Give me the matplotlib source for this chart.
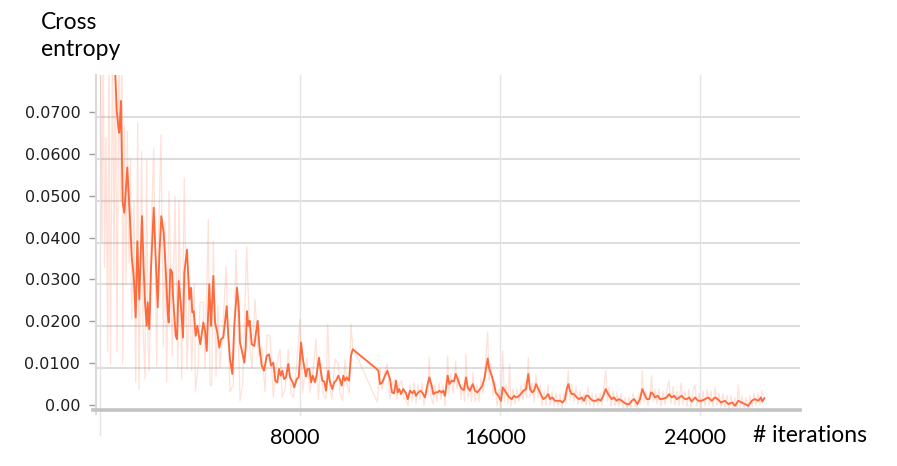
import matplotlib
matplotlib.use("Agg")
import matplotlib.pyplot as plt
from matplotlib.transforms import ScaledTranslation

# ---------------- data ----------------
smooth_steps = [
    400, 560, 668, 740, 772, 840, 908, 972, 1092, 1200,
    1268, 1348, 1428, 1492, 1572, 1680, 1748, 1800, 1868, 1908,
    1972, 2040, 2148, 2228, 2308, 2372, 2452, 2548, 2628, 2708,
    2748, 2812, 2880, 2920, 3028, 3080, 3148, 3228, 3320, 3372,
    3480, 3572, 3640, 3692, 3748, 3828, 3892, 4012, 4132, 4200,
    4268, 4372, 4440, 4532, 4600, 4692, 4772, 4840, 4932, 5012,
    5068, 5132, 5200, 5292, 5372, 5480, 5548, 5600, 5692, 5772,
    5828, 5880, 5932, 5988, 6068, 6172, 6240, 6308, 6372, 6468,
    6560, 6668, 6760, 6840, 6932, 7012, 7092, 7160, 7228, 7292,
    7360, 7440, 7532, 7600, 7708, 7772, 7868, 7948, 8040, 8132,
    8240, 8292, 8372, 8440, 8508, 8600, 8668, 8760, 8828, 8892,
    8972, 9040, 9132, 9200, 9292, 9372, 9440, 9532, 9600, 9668,
    9732, 9800, 9868, 9960, 10040, 10108, 11068, 11132, 11200, 11292,
    11400, 11492, 11600, 11680, 11760, 11840, 11908, 11972, 12040, 12132,
    12240, 12308, 12400, 12492, 12572, 12640, 12732, 12828, 12908, 13000,
    13092, 13172, 13268, 13332, 13428, 13508, 13572, 13668, 13732, 13800,
    13908, 13972, 14068, 14160, 14228, 14308, 14372, 14468, 14560, 14640,
    14708, 14800, 14908, 15000, 15092, 15200, 15292, 15372, 15440, 15508,
    15572, 15668, 15760, 15828, 15932, 16040, 16108, 16200, 16280, 16372,
    16468, 16560, 16640, 16732, 16828, 16932, 17040, 17132, 17200, 17292,
    17360, 17440, 17532, 17628, 17732, 17828, 17932, 18000, 18092, 18200,
    18292, 18400, 18508, 18600, 18668, 18732, 18800, 18868, 18960, 19068,
    19160, 19268, 19360, 19440, 19532, 19628, 19732, 19840, 19932, 20028,
    20132, 20228, 20292, 20372, 20468, 20560, 20668, 20760, 20868, 20960,
    21068, 21172, 21268, 21372, 21492, 21600, 21692, 21772, 21868, 21972,
    22040, 22132, 22200, 22308, 22400, 22532, 22668, 22760, 22868, 22972,
    23068, 23172, 23268, 23372, 23468, 23572, 23668, 23800, 23932, 24068,
    24200, 24332, 24468, 24600, 24708, 24840, 25000, 25132, 25292, 25400,
    25532, 25668, 25800, 25932, 26068, 26200, 26332, 26440, 26492, 26572,
]
smooth_values = [
    .100, .088, .0717, .0672, .0662, .0738, .0495, .0471, .0579, .0455,
    .0367, .0320, .0221, .0403, .0264, .0463, .0336, .0257, .0201, .0257,
    .0193, .0336, .0483, .0367, .0245, .0367, .0463, .0423, .0336, .0233,
    .0209, .0336, .0330, .0272, .0177, .0169, .0308, .0256, .0173, .0328,
    .0383, .0264, .0292, .0233, .0236, .0177, .0201, .0157, .0209, .0190,
    .0141, .0300, .0201, .0320, .0209, .0185, .0149, .0169, .0173, .0217,
    .0248, .0177, .0121, .0086, .0201, .0292, .0248, .0161, .0137, .0113,
    .0150, .0236, .0201, .0213, .0157, .0153, .0185, .0213, .0153, .0106,
    .0094, .0129, .0133, .0106, .0113, .0070, .0066, .0098, .0082, .0094,
    .0074, .0078, .0110, .0078, .0066, .0054, .0074, .0078, .0161, .0115,
    .0080, .0098, .0098, .0066, .0082, .0066, .0085, .0125, .0094, .0070,
    .0068, .0046, .0094, .0066, .0050, .0066, .0070, .0082, .0072, .0058,
    .0082, .0070, .0078, .0070, .0129, .0145, .0098, .0094, .0062, .0066,
    .0082, .0094, .0074, .0042, .0040, .0070, .0042, .0050, .0038, .0050,
    .0040, .0026, .0046, .0040, .0046, .0034, .0042, .0046, .0040, .0030,
    .0058, .0078, .0058, .0038, .0042, .0042, .0046, .0042, .0046, .0034,
    .0082, .0062, .0070, .0068, .0086, .0074, .0062, .0050, .0048, .0078,
    .0054, .0046, .0062, .0046, .0042, .0050, .0058, .0074, .0098, .0123,
    .0098, .0082, .0062, .0042, .0034, .0022, .0054, .0046, .0038, .0030,
    .0026, .0034, .0030, .0032, .0038, .0046, .0050, .0086, .0050, .0042,
    .0046, .0062, .0050, .0038, .0026, .0030, .0038, .0026, .0030, .0022,
    .0022, .0022, .0018, .0026, .0050, .0062, .0046, .0038, .0038, .0030,
    .0026, .0030, .0022, .0034, .0034, .0026, .0022, .0022, .0026, .0022,
    .0034, .0050, .0042, .0034, .0026, .0030, .0022, .0026, .0022, .0018,
    .0014, .0014, .0022, .0026, .0014, .0026, .0050, .0038, .0026, .0026,
    .0042, .0038, .0030, .0034, .0026, .0027, .0030, .0038, .0030, .0034,
    .0026, .0030, .0034, .0027, .0026, .0030, .0020, .0030, .0022, .0022,
    .0026, .0030, .0022, .0030, .0026, .0018, .0022, .0014, .0018, .0010,
    .0022, .0018, .0014, .0010, .0022, .0026, .0022, .0030, .0020, .0028,
]

raw_steps = [
    20, 80, 132, 180, 240, 308, 360, 420, 500, 560,
    620, 680, 760, 820, 880, 908, 980, 1040, 1092, 1160,
    1220, 1268, 1360, 1428, 1508, 1560, 1668, 1720, 1800, 1868,
    1920, 1972, 2040, 2148, 2268, 2340, 2440, 2532, 2600, 2668,
    2760, 2892, 3000, 3108, 3160, 3268, 3372, 3480, 3588, 3668,
    3772, 3820, 3932, 4000, 4132, 4200, 4332, 4400, 4468, 4532,
    4640, 4720, 4800, 4920, 5040, 5200, 5332, 5440, 5600, 5708,
    5868, 6000, 6080, 6200, 6332, 6468, 6600, 6680, 6800, 6932,
    7040, 7200, 7280, 7400, 7532, 7640, 7732, 7840, 8000, 8108,
    8268, 8400, 8520, 8640, 8732, 8840, 8920, 9040, 9108, 9200,
    9280, 9400, 9532, 9600, 9708, 9800, 9880, 9972, 10040, 10108,
    11092, 11200, 11280, 11400, 11492, 11600, 11680, 11800, 11880, 11960,
    12068, 12160, 12240, 12320, 12400, 12480, 12560, 12640, 12720, 12800,
    12880, 12960, 13040, 13120, 13172, 13240, 13320, 13400, 13480, 13560,
    13640, 13720, 13800, 13908, 13960, 14040, 14120, 14228, 14280, 14360,
    14440, 14520, 14580, 14640, 14720, 14800, 14860, 14920, 15000, 15080,
    15160, 15240, 15320, 15400, 15508, 15560, 15640, 15720, 15800, 15880,
    15960, 16040, 16108, 16180, 16240, 16320, 16380, 16440, 16520, 16600,
    16680, 16760, 16840, 16920, 17000, 17060, 17132, 17200, 17280, 17360,
    17440, 17520, 17600, 17680, 17760, 17840, 17920, 18000, 18080, 18160,
    18240, 18320, 18400, 18480, 18560, 18640, 18732, 18800, 18880, 18960,
    19040, 19120, 19200, 19280, 19360, 19440, 19520, 19600, 19680, 19760,
    19840, 19920, 20000, 20080, 20160, 20228, 20300, 20360, 20440, 20520,
    20600, 20680, 20760, 20840, 20920, 21000, 21080, 21160, 21240, 21320,
    21400, 21480, 21560, 21620, 21692, 21760, 21840, 21920, 22000, 22068,
    22120, 22200, 22280, 22360, 22440, 22520, 22600, 22680, 22760, 22840,
    22920, 23000, 23080, 23160, 23240, 23320, 23400, 23480, 23560, 23640,
    23720, 23800, 23880, 23960, 24040, 24120, 24200, 24280, 24360, 24440,
    24520, 24600, 24680, 24760, 24840, 24920, 25000, 25080, 25160, 25240,
    25320, 25400, 25480, 25532, 25600, 25680, 25760, 25840, 25920, 26000,
    26080, 26160, 26240, 26320, 26400, 26480, 26572,
]
raw_values = [
    .085, .040, .090, .034, .065, .014, .090, .011, .090, .030,
    .090, .0138, .090, .050, .090, .011, .068, .030, .0667, .035,
    .060, .0217, .050, .0067, .0686, .005, .0617, .020, .0074, .0598,
    .015, .0094, .040, .0625, .0106, .040, .0657, .015, .045, .0067,
    .0522, .013, .051, .010, .050, .0074, .0554, .0098, .032, .0094,
    .030, .0045, .0106, .0257, .0257, .0098, .0455, .0058, .0060, .0403,
    .0080, .0250, .0100, .0200, .0343, .0043, .0060, .0383, .0022, .0060,
    .0391, .0150, .0100, .0264, .0130, .0150, .0043, .0180, .0177, .0031,
    .0100, .0145, .0031, .0050, .0145, .0040, .0030, .0090, .0217, .0042,
    .0125, .0042, .0090, .0169, .0026, .0110, .0040, .0026, .0205, .0050,
    .0026, .0122, .0110, .0040, .0022, .0121, .0060, .0040, .0205, .0150,
    .0019, .0100, .0050, .0094, .0110, .0026, .0060, .0074, .0026, .0060,
    .0070, .0026, .0026, .0010, .0060, .0020, .0065, .0015, .0060, .0025,
    .0065, .0010, .0050, .0040, .0126, .0030, .0015, .0060, .0020, .0065,
    .0025, .0060, .0010, .0129, .0040, .0085, .0040, .0117, .0050, .0080,
    .0025, .0060, .0020, .0133, .0030, .0060, .0020, .0090, .0020, .0060,
    .0020, .0075, .0040, .0100, .0186, .0070, .0110, .0035, .0070, .0010,
    .0050, .0005, .0141, .0020, .0060, .0015, .0110, .0008, .0050, .0015,
    .0050, .0020, .0060, .0025, .0065, .0030, .0125, .0030, .0065, .0020,
    .0085, .0030, .0060, .0010, .0045, .0012, .0060, .0010, .0045, .0008,
    .0040, .0008, .0038, .0005, .0040, .0015, .0094, .0025, .0060, .0020,
    .0055, .0012, .0045, .0015, .0040, .0010, .0055, .0010, .0040, .0008,
    .0038, .0010, .0040, .0012, .0055, .0094, .0020, .0055, .0010, .0045,
    .0010, .0040, .0008, .0040, .0005, .0030, .0002, .0030, .0005, .0040,
    .0010, .0005, .0040, .0015, .0094, .0020, .0045, .0010, .0040, .0082,
    .0020, .0050, .0015, .0050, .0008, .0045, .0012, .0050, .0070, .0015,
    .0055, .0010, .0045, .0010, .0065, .0012, .0045, .0008, .0050, .0005,
    .0045, .0060, .0008, .0040, .0005, .0045, .0010, .0050, .0012, .0045,
    .0008, .0055, .0012, .0040, .0005, .0040, .0005, .0035, .0002, .0035,
    .0003, .0030, .0005, .0060, .0005, .0035, .0002, .0030, .0002, .0035,
    .0008, .0040, .0010, .0040, .0012, .0045, .0030,
]

y_ticks = [0.0, 0.01, 0.02, 0.03, 0.04, 0.05, 0.06, 0.07]
y_tick_labels = ["0.00", "0.0100", "0.0200", "0.0300", "0.0400", "0.0500", "0.0600", "0.0700"]
x_ticks = [8000, 16000, 24000]
x_tick_labels = ["8000", "16000", "24000"]
x_grid = [0, 8000, 16000, 24000]

assert len(smooth_steps) == len(smooth_values)
assert len(raw_steps) == len(raw_values)

# ---------------- figure ----------------
W, H = 897, 466
fig = plt.figure(figsize=(W / 100, H / 100), dpi=100)
ax = fig.add_axes([97 / W, 1 - 410 / H, (800 - 97) / W, (410 - 75) / H])
ax.set_xlim(-120, 28000)
ax.set_ylim(0, 0.08)

line_col = "#ff6a3d"
ax.plot(raw_steps, raw_values, color=line_col, alpha=0.2, lw=0.9, zorder=2)
ax.plot(smooth_steps, smooth_values, color=line_col, lw=1.35, zorder=3,
        solid_joinstyle="round")

# horizontal grid
for yv in y_ticks[1:]:
    ax.axhline(yv, color="#dddddd", lw=1.5, zorder=1)
# vertical grid
for xv in x_grid:
    ax.axvline(xv, ymin=-0.075 if xv == 0 else -0.015, ymax=1,
               color="#e4e4e4", lw=1.0, zorder=1, clip_on=False)

# spines
for s in ["top", "right"]:
    ax.spines[s].set_visible(False)
ax.spines["bottom"].set_color("#c3c3c3")
ax.spines["bottom"].set_linewidth(2.6)
ax.spines["bottom"].set_bounds(-280, 28000)
ax.spines["bottom"].set_zorder(4)
ax.spines["left"].set_color("#dadada")
ax.spines["left"].set_linewidth(1.5)
ax.spines["left"].set_bounds(-0.001, 0.08)
ax.spines["left"].set_position(("outward", 1))

# y ticks (labels sit ~5px above grid lines, like the source screenshot)
ax.set_yticks(y_ticks)
ax.set_yticklabels(y_tick_labels, family="DejaVu Sans", fontsize=11.5, color="#1e1e1e")
ax.tick_params(axis="y", direction="out", length=5, width=1.0, color="#9e9e9e", pad=6)
up = ScaledTranslation(0, 5 / 100, fig.dpi_scale_trans)
for t in ax.yaxis.get_major_ticks():
    t.label1.set_transform(t.label1.get_transform() + up)
    t.tick1line.set_transform(t.tick1line.get_transform() + up)

# x ticks
ax.set_xticks(x_ticks)
ax.set_xticklabels(x_tick_labels, family="Lato", fontsize=15.5, color="black")
ax.tick_params(axis="x", length=0, pad=13)
left = ScaledTranslation(-5 / 100, 0, fig.dpi_scale_trans)
for t in ax.xaxis.get_major_ticks():
    t.label1.set_transform(t.label1.get_transform() + left)

fig.text(41 / W, 1 - 12 / H, "Cross\nentropy", family="Lato", fontsize=16.5,
         ha="left", va="top", linespacing=1.35)
fig.text(753 / W, 1 - 442 / H, "# iterations", family="Lato", fontsize=16.5,
         ha="left", va="baseline")

fig.savefig("out.png", dpi=100)
